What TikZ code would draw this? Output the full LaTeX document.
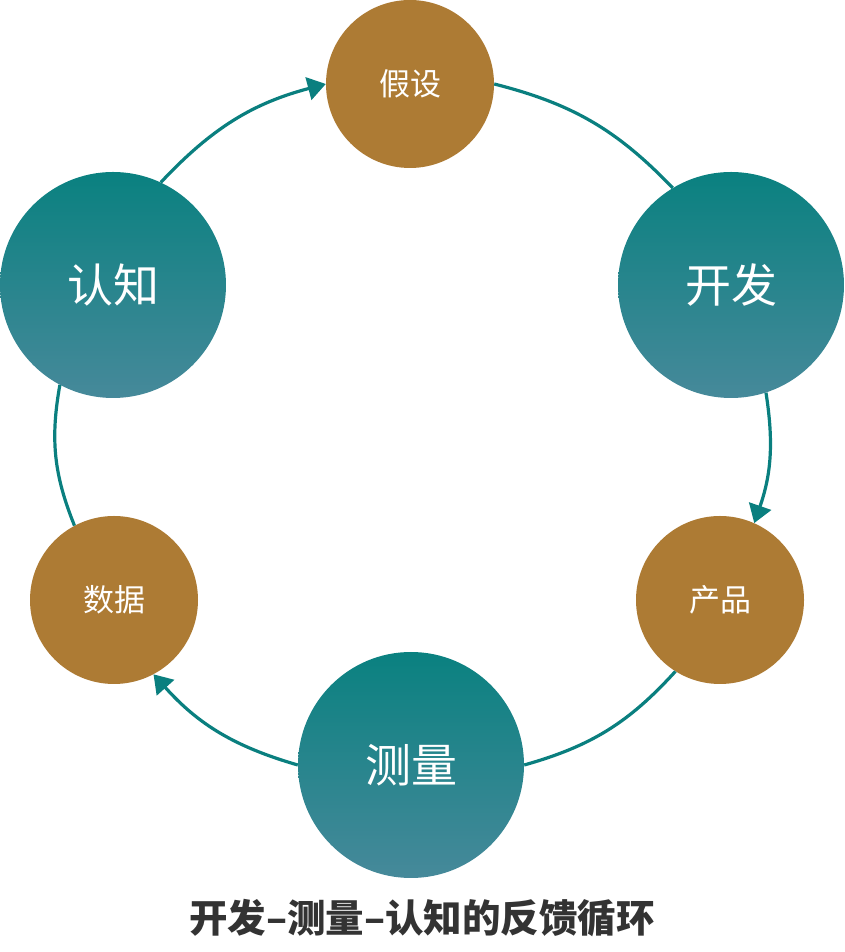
\documentclass[tikz,border=0pt]{standalone}
\usepackage{fontspec}
\newfontfamily\cjk{Noto Sans CJK SC}
\usetikzlibrary{arrows.meta}
\definecolor{brownc}{HTML}{AD7B34}
\definecolor{tealtop}{HTML}{0A8180}
\definecolor{tealbot}{HTML}{46899A}
\definecolor{linec}{HTML}{0A7F7F}
\definecolor{titlec}{HTML}{333333}
\tikzset{
  bignode/.style={circle, inner sep=0pt, minimum size=226pt, top color=tealtop, bottom color=tealbot, draw=none, text=white, font=\cjk\fontsize{46}{50}\selectfont},
  smallnode/.style={circle, inner sep=0pt, minimum size=168pt, fill=brownc, draw=none, text=white, font=\cjk\fontsize{31}{34}\selectfont},
  conn/.style={draw=linec, line width=3.2pt},
  arr/.style={conn, -{Triangle[length=18pt,width=23pt]}},
}
\begin{document}
\begin{tikzpicture}[x=1pt,y=1pt]
\useasboundingbox (0,0) rectangle (844,952);
\node[smallnode] (hyp) at (410,868) {假设};
\node[bignode]   (dev) at (731,667) {开发};
\node[smallnode] (prod) at (720,352) {产品};
\node[bignode]   (meas) at (411,187) {测量};
\node[smallnode] (data) at (114,352) {数据};
\node[bignode]   (learn) at (113,667) {认知};
\draw[arr]  (learn.65) to[bend left=16] (hyp.180);
\draw[conn] (hyp.0) to[bend left=16] (dev.121);
\draw[arr]  (dev.-72) to[bend left=14] (prod.66);
\draw[conn] (prod.-122) to[bend left=16] (meas.0);
\draw[arr]  (meas.180) to[bend left=16] (data.-62);
\draw[conn] (data.118) to[bend left=16] (learn.242);
\node[text=titlec, font=\cjk\bfseries\fontsize{38.5}{42}\selectfont] (title) at (422,34) {开发–测量–认知的反馈循环};
\end{tikzpicture}
\end{document}
